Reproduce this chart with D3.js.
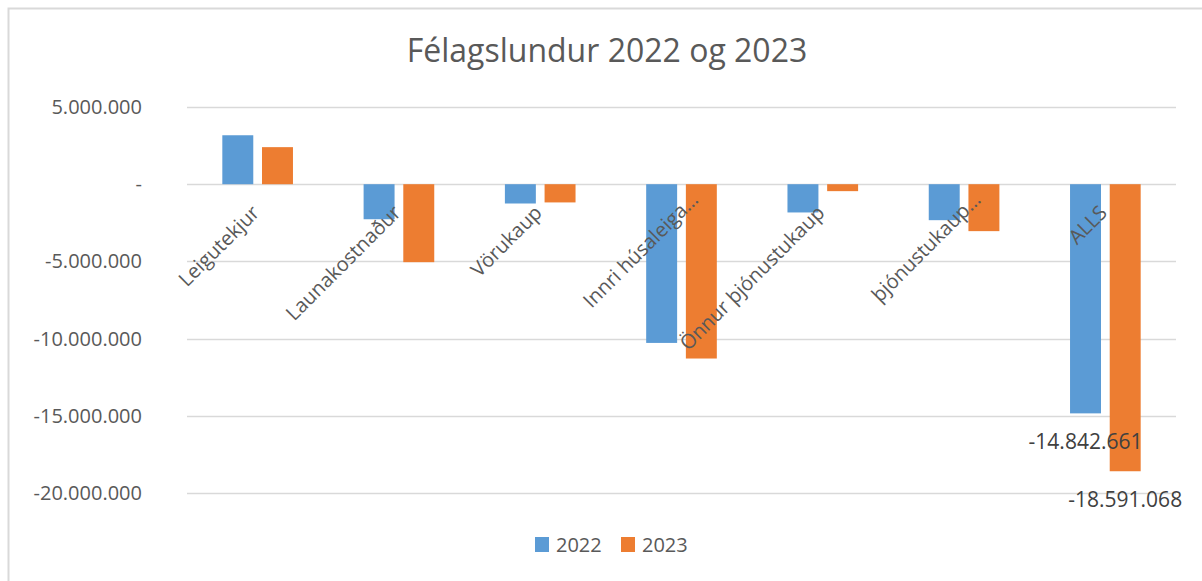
<!DOCTYPE html>
<html>
<head>
<meta charset="utf-8">
<script src="https://cdn.jsdelivr.net/npm/d3@7"></script>
<style>
  body { margin: 0; background: #fff; }
  svg { display: block; font-family: "Open Sans", sans-serif; }
</style>
</head>
<body>
<svg id="chart" width="1202" height="581"></svg>
<script>
// chart data
var categories = ['Leigutekjur', 'Launakostnaður', 'Vörukaup', 'Innri húsaleiga…',
  'Önnur þjónustukaup', 'þjónustukaup…', 'ALLS'];
var seriesNames = ['2022', '2023'];
var values2022 = [3170000, -2270000, -1250000, -10280000, -1830000, -2330000, -14842661];
var values2023 = [2400000, -5050000, -1180000, -11290000, -450000, -3040000, -18591068];
var yTicks = [5000000, 0, -5000000, -10000000, -15000000, -20000000];
var labelledCategory = 'ALLS';

var colors = {'2022': '#5B9BD5', '2023': '#ED7D31'};
var textColor = '#595959';

var rows = categories.map(function(c, i) {
  return {cat: c, values: [
    {key: '2022', value: values2022[i]},
    {key: '2023', value: values2023[i]}
  ]};
});

var svg = d3.select('#chart');

// outer border, runs off the right and bottom edges
svg.append('rect')
  .attr('x', 8.5).attr('y', 8.5)
  .attr('width', 1300).attr('height', 700)
  .attr('fill', 'none')
  .attr('stroke', '#d9d9d9')
  .attr('stroke-width', 2);

// title
svg.append('text')
  .attr('x', 607).attr('y', 62)
  .attr('text-anchor', 'middle')
  .attr('fill', textColor)
  .attr('font-size', 32)
  .text('Félagslundur 2022 og 2023');

var margin = {left: 187, right: 1176, top: 107, bottom: 493};

var x0 = d3.scaleBand()
  .domain(categories)
  .range([margin.left, margin.right])
  .paddingInner(0.5)
  .paddingOuter(0.25);

var x1 = d3.scaleBand()
  .domain(seriesNames)
  .range([0, x0.bandwidth()])
  .paddingInner(0.22);

var y = d3.scaleLinear()
  .domain([-20000000, 5000000])
  .range([margin.bottom, margin.top]);

var fmt = function(v) {
  if (v === 0) return '-';
  return d3.format(',')(v).replace(/,/g, '.').replace('−', '-');
};

// gridlines
svg.append('g')
  .selectAll('line')
  .data(yTicks)
  .join('line')
  .attr('x1', margin.left).attr('x2', margin.right)
  .attr('y1', function(d) { return Math.round(y(d)) + 0.5; })
  .attr('y2', function(d) { return Math.round(y(d)) + 0.5; })
  .attr('stroke', '#d9d9d9')
  .attr('stroke-width', 1.5);

// Y axis
var yAxis = svg.append('g')
  .attr('transform', 'translate(142,0)')
  .call(d3.axisLeft(y).tickValues(yTicks).tickSize(0).tickPadding(0).tickFormat(fmt));
yAxis.select('.domain').remove();
yAxis.selectAll('text')
  .attr('fill', textColor)
  .attr('font-size', 20)
  .attr('font-family', '"Open Sans", sans-serif');

// bars
var groups = svg.append('g')
  .selectAll('g')
  .data(rows)
  .join('g')
  .attr('transform', function(d) { return 'translate(' + x0(d.cat) + ',0)'; });

groups.selectAll('rect')
  .data(function(d) { return d.values; })
  .join('rect')
  .attr('x', function(d) { return x1(d.key); })
  .attr('width', x1.bandwidth())
  .attr('y', function(d) { return y(Math.max(0, d.value)); })
  .attr('height', function(d) { return Math.abs(y(d.value) - y(0)); })
  .attr('fill', function(d) { return colors[d.key]; });

// data labels for totals
groups.filter(function(d) { return d.cat === labelledCategory; })
  .selectAll('text')
  .data(function(d) { return d.values; })
  .join('text')
  .attr('x', function(d) { return x1(d.key) + x1.bandwidth() / 2; })
  .attr('y', function(d) { return y(d.value) + 36; })
  .attr('text-anchor', 'middle')
  .attr('fill', '#404040')
  .attr('font-size', 21)
  .text(function(d) { return fmt(d.value); });

// category labels, rotated
svg.append('g')
  .selectAll('text')
  .data(categories)
  .join('text')
  .attr('transform', function(d) {
    var cx = x0(d) + x0.bandwidth() / 2 + 3;
    var cy = 214;
    if (d.slice(-1) === '…') { cx += 15; cy -= 13; }
    return 'translate(' + cx + ',' + cy + ') rotate(-45)';
  })
  .attr('text-anchor', 'end')
  .attr('fill', textColor)
  .attr('font-size', 20)
  .text(function(d) { return d; });

// legend
var legend = svg.append('g')
  .selectAll('g')
  .data(seriesNames)
  .join('g')
  .attr('transform', function(d, i) { return 'translate(' + (535 + i * 86) + ',537)'; });

legend.append('rect')
  .attr('width', 14).attr('height', 15)
  .attr('fill', function(d) { return colors[d]; });

legend.append('text')
  .attr('x', 21).attr('y', 15)
  .attr('fill', textColor)
  .attr('font-size', 20)
  .text(function(d) { return d; });
</script>
</body>
</html>
